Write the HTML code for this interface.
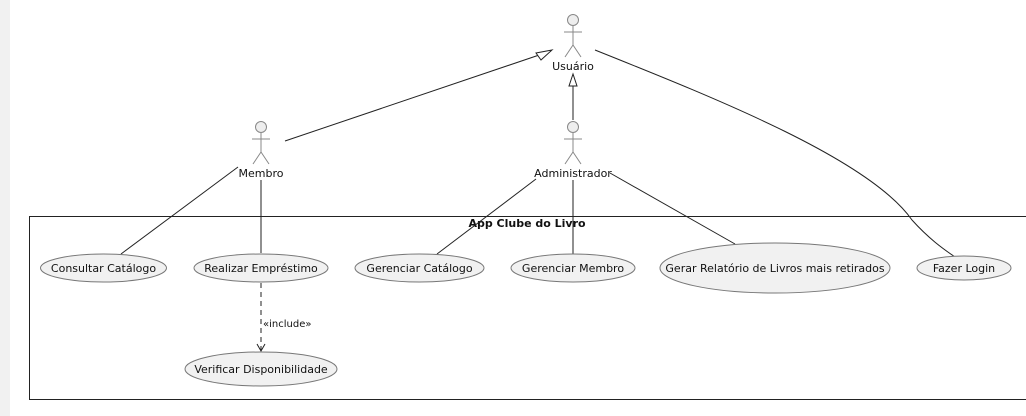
<!DOCTYPE html>
<html><head><style>
html,body{margin:0;padding:0;background:#fff;}
svg{display:block;}
text{font-family:"DejaVu Sans","Liberation Sans",sans-serif;font-size:11px;fill:#111;}
</style></head><body>
<svg width="1026" height="416" viewBox="0 0 1026 416" xmlns="http://www.w3.org/2000/svg">
<rect x="0" y="0" width="10" height="416" fill="#f1f1f1"/>
<!-- frame -->
<rect x="29.5" y="216.5" width="1010" height="183" fill="none" stroke="#222" stroke-width="1"/>
<text x="527" y="227" text-anchor="middle" style="font-weight:bold">App Clube do Livro</text>
<g stroke="#222" fill="none" stroke-width="1">
<line x1="285" y1="141" x2="551" y2="51"/>
<polygon points="552,50 536,53 541,60" fill="#fff"/>
<line x1="573" y1="120" x2="573" y2="86"/>
<polygon points="573,74 569,86 577,86" fill="#fff"/>
<path d="M595,50 C720,100 870,160 912,220 C930,240 945,250 955,257"/>
<line x1="238" y1="167" x2="121" y2="254"/>
<line x1="261" y1="180" x2="261" y2="253"/>
<line x1="536" y1="179" x2="437" y2="254"/>
<line x1="573" y1="180" x2="573" y2="254"/>
<line x1="610" y1="173" x2="735" y2="244"/>
<line x1="261" y1="283" x2="261" y2="350" stroke-dasharray="5,4"/>
<polyline points="257,344 261,351 265,344"/>
</g>
<text x="263" y="327" style="font-size:10px">«include»</text>
<g stroke="#888" fill="none" stroke-width="1">
<circle cx="573" cy="20" r="5.5" fill="#eee"/>
<line x1="573" y1="26" x2="573" y2="45"/><line x1="564" y1="32" x2="582" y2="32"/>
<polyline points="565,57 573,45 581,57"/>
<circle cx="573" cy="127" r="5.5" fill="#eee"/>
<line x1="573" y1="133" x2="573" y2="152"/><line x1="564" y1="139" x2="582" y2="139"/>
<polyline points="565,164 573,152 581,164"/>
<circle cx="261" cy="127" r="5.5" fill="#eee"/>
<line x1="261" y1="133" x2="261" y2="152"/><line x1="252" y1="139" x2="270" y2="139"/>
<polyline points="253,164 261,152 269,164"/>
</g>
<text x="573" y="70" text-anchor="middle">Usuário</text>
<text x="573" y="177" text-anchor="middle">Administrador</text>
<text x="261" y="177" text-anchor="middle">Membro</text>
<g fill="#f1f1f1" stroke="#777" stroke-width="1">
<ellipse cx="103.5" cy="268" rx="63" ry="14"/>
<ellipse cx="261" cy="268" rx="67" ry="14"/>
<ellipse cx="419.5" cy="268" rx="64.5" ry="14"/>
<ellipse cx="573" cy="268" rx="62" ry="14"/>
<ellipse cx="775" cy="268" rx="115" ry="25"/>
<ellipse cx="964" cy="268" rx="47" ry="12"/>
<ellipse cx="261" cy="369" rx="76" ry="17"/>
</g>
<g text-anchor="middle">
<text x="103.5" y="272">Consultar Catálogo</text>
<text x="261" y="272">Realizar Empréstimo</text>
<text x="419.5" y="272">Gerenciar Catálogo</text>
<text x="573" y="272">Gerenciar Membro</text>
<text x="775" y="272">Gerar Relatório de Livros mais retirados</text>
<text x="964" y="272">Fazer Login</text>
<text x="261" y="373">Verificar Disponibilidade</text>
</g>
</svg>
</body></html>
